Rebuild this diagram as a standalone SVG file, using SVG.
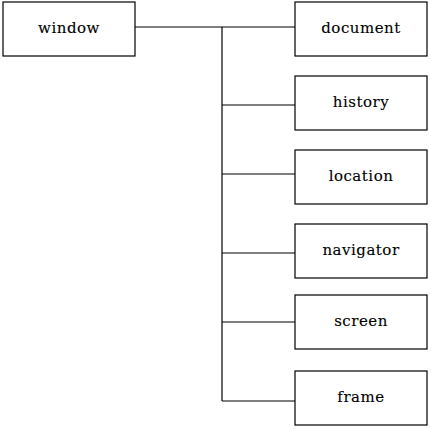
<svg xmlns="http://www.w3.org/2000/svg" width="431" height="429" viewBox="0 0 431 429">
<style>
.box{fill:#fff;stroke:#000;stroke-width:1.2}
line{stroke:#000;stroke-width:1.2}
text{font-family:"DejaVu Serif","Liberation Serif",serif;font-size:15px;letter-spacing:0.5px;text-anchor:middle;fill:#000;stroke:#000;stroke-width:0.12px}
</style>
<rect width="431" height="429" fill="#fff"/>
<g id="connectors">
<line x1="135" y1="27" x2="295" y2="27"/>
<line x1="222" y1="27" x2="222" y2="401"/>
<line x1="222" y1="105" x2="295" y2="105"/>
<line x1="222" y1="174" x2="295" y2="174"/>
<line x1="222" y1="253" x2="295" y2="253"/>
<line x1="222" y1="322" x2="295" y2="322"/>
<line x1="222" y1="401" x2="295" y2="401"/>
</g>
<g id="window"><rect class="box" x="3" y="2" width="132" height="54"/><text x="69" y="33">window</text></g>
<g id="document"><rect class="box" x="295" y="2" width="132" height="54"/><text x="361" y="33">document</text></g>
<g id="history"><rect class="box" x="295" y="76" width="132" height="54"/><text x="361" y="107">history</text></g>
<g id="location"><rect class="box" x="295" y="150" width="132" height="54"/><text x="361" y="181">location</text></g>
<g id="navigator"><rect class="box" x="295" y="224" width="132" height="54"/><text x="361" y="255">navigator</text></g>
<g id="screen"><rect class="box" x="295" y="295" width="132" height="54"/><text x="361" y="326">screen</text></g>
<g id="frame"><rect class="box" x="295" y="371" width="132" height="54"/><text x="361" y="402">frame</text></g>
</svg>
